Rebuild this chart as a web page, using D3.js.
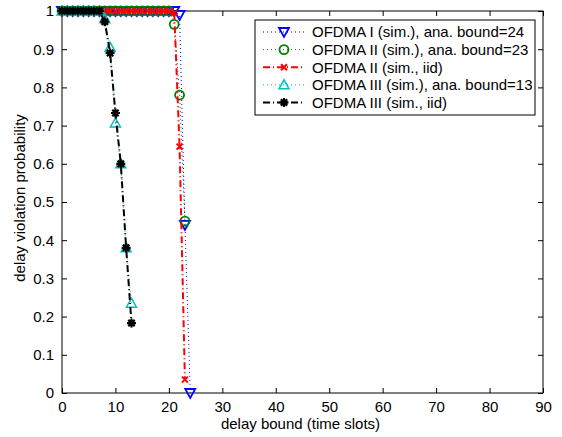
<!DOCTYPE html>
<html>
<head>
<meta charset="utf-8">
<script src="https://cdn.jsdelivr.net/npm/d3@7"></script>
<style>
  body { margin: 0; background: #fff; }
  text { font-family: "Liberation Sans", Arial, sans-serif; fill: #000; }
</style>
</head>
<body>
<div id="chart"></div>
<script>

// delay bound values (time slots)
var xI   = [0,1,2,3,4,5,6,7,8,9,10,11,12,13,14,15,16,17,18,19,20,21,22,23,24],
    yI   = [1,1,1,1,1,1,1,1,1,1,1,1,1,1,1,1,1,1,1,1,1,1,0.99,0.44,0],
    xII  = [0,1,2,3,4,5,6,7,8,9,10,11,12,13,14,15,16,17,18,19,20,21,22,23],
    yII  = [1,1,1,1,1,1,1,1,1,1,1,1,1,1,1,1,1,1,1,1,1,0.965,0.78,0.45],
    xIIi = [0,1,2,3,4,5,6,7,8,9,10,11,12,13,14,15,16,17,18,19,20,21,22,23],
    yIIi = [1,1,1,1,1,1,1,1,1,1,1,1,1,1,1,1,1,1,1,1,1,0.995,0.645,0.035],
    xIII  = [0,1,2,3,4,5,6,7,8,9,10,11,12,13],
    yIII  = [1,1,1,1,1,1,1,1,0.98,0.905,0.707,0.60,0.38,0.235],
    xIIIi = [0,1,2,3,4,5,6,7,8,9,10,11,12,13],
    yIIIi = [1,1,1,1,1,1,1,1,0.972,0.89,0.733,0.60,0.38,0.183];

var xTicks = [0,10,20,30,40,50,60,70,80,90],
    yTicks = [0,0.1,0.2,0.3,0.4,0.5,0.6,0.7,0.8,0.9,1];

var labels = [ 'OFDMA I (sim.), ana. bound=24'
             , 'OFDMA II (sim.), ana. bound=23'
             , 'OFDMA II (sim., iid)'
             , 'OFDMA III (sim.), ana. bound=13'
             , 'OFDMA III (sim., iid)' ];

var series = [
  { x: xI,    y: yI,    color: '#0000ff', dash: '1,3',     width: 1,   marker: 'tdown' },
  { x: xII,   y: yII,   color: '#008000', dash: '1,3',     width: 1,   marker: 'circle' },
  { x: xIIi,  y: yIIi,  color: '#ff0000', dash: '7,3,1,3', width: 2,   marker: 'x' },
  { x: xIII,  y: yIII,  color: '#00bfbf', dash: '1,3',     width: 1,   marker: 'tup' },
  { x: xIIIi, y: yIIIi, color: '#000000', dash: '7,3,1,3', width: 2,   marker: 'star' }
];
series.forEach((s, i) => s.label = labels[i]);

var W = 562, H = 437,
    margin = { top: 11, right: 19, bottom: 44, left: 62 },
    width = W - margin.left - margin.right,
    height = H - margin.top - margin.bottom,
    fs = 15;

var x = d3.scaleLinear().domain([0, 90]).range([0, width]),
    y = d3.scaleLinear().domain([0, 1]).range([height, 0]);

var svg = d3.select('#chart').append('svg')
    .attr('width', W)
    .attr('height', H)
  .append('g')
    .attr('transform', `translate(${margin.left},${margin.top})`);

// axes with inward ticks, box all round
var tk = 5;
svg.append('g')
    .attr('transform', `translate(0,${height})`)
    .call(d3.axisBottom(x).tickValues(xTicks).tickSizeInner(-tk).tickSizeOuter(0).tickPadding(8));
svg.append('g')
    .call(d3.axisTop(x).tickValues(xTicks).tickSizeInner(-tk).tickSizeOuter(0).tickFormat(''));
svg.append('g')
    .call(d3.axisLeft(y).tickValues(yTicks).tickSizeInner(-tk).tickSizeOuter(0).tickPadding(8)
      .tickFormat(d => d === 0 || d === 1 ? d3.format('d')(d) : d3.format('.1f')(d)));
svg.append('g')
    .attr('transform', `translate(${width},0)`)
    .call(d3.axisRight(y).tickValues(yTicks).tickSizeInner(-tk).tickSizeOuter(0).tickFormat(''));

svg.selectAll('.domain').remove();
svg.selectAll('.tick line').attr('stroke', '#000');
svg.selectAll('.tick text').attr('font-size', fs).attr('font-family', '"Liberation Sans", Arial, sans-serif');

svg.append('rect')
    .attr('width', width).attr('height', height)
    .attr('fill', 'none').attr('stroke', '#000').attr('stroke-width', 1);

svg.append('text')
    .attr('x', width / 2 - 2).attr('y', height + 36)
    .attr('text-anchor', 'middle').attr('font-size', fs)
    .text('delay bound (time slots)');

svg.append('text')
    .attr('transform', `translate(${-37},${height / 2 - 4}) rotate(-90)`)
    .attr('text-anchor', 'middle').attr('font-size', fs)
    .text('delay violation probability');

function drawMarker(g, type, color) {
  if (type === 'tdown') {
    g.append('path').attr('d', 'M-5,-4L5,-4L0,5Z')
      .attr('fill', 'none').attr('stroke', color).attr('stroke-width', 1.8);
  } else if (type === 'tup') {
    g.append('path').attr('d', 'M-5,4L5,4L0,-5Z')
      .attr('fill', 'none').attr('stroke', color).attr('stroke-width', 1.5);
  } else if (type === 'circle') {
    g.append('circle').attr('r', 4.5)
      .attr('fill', 'none').attr('stroke', color).attr('stroke-width', 1.8);
  } else if (type === 'x') {
    g.append('path').attr('d', 'M-3,-3L3,3M-3,3L3,-3')
      .attr('stroke', color).attr('stroke-width', 2);
  } else if (type === 'star') {
    g.append('path').attr('d', 'M0,-4.5L0,4.5M-4.5,0L4.5,0M-3.2,-3.2L3.2,3.2M-3.2,3.2L3.2,-3.2')
      .attr('stroke', color).attr('stroke-width', 2.2);
    g.append('circle').attr('r', 2.8).attr('fill', color);
  }
}

var line = d3.line()
    .x(d => x(d[0]))
    .y(d => y(d[1]));

var plot = svg.append('g');

series.forEach(s => {
  var pts = s.x.map((v, i) => [v, s.y[i]]);
  var g = plot.append('g');
  g.append('path')
      .attr('d', line(pts))
      .attr('fill', 'none')
      .attr('stroke', s.color)
      .attr('stroke-width', s.width)
      .attr('stroke-dasharray', s.dash);
  g.selectAll('.m').data(pts).enter()
    .append('g')
      .attr('class', 'm')
      .attr('transform', d => `translate(${x(d[0])},${y(d[1])})`)
      .each(function () { drawMarker(d3.select(this), s.marker, s.color); });
});

// legend
var lg = svg.append('g').attr('transform', `translate(${255 - margin.left},${20 - margin.top})`);
lg.append('rect')
    .attr('width', 280).attr('height', 95)
    .attr('fill', '#fff').attr('stroke', '#000').attr('stroke-width', 1);

series.forEach((s, i) => {
  var row = lg.append('g').attr('transform', `translate(0,${12 + i * 17.6})`);
  row.append('line')
      .attr('x1', 8).attr('x2', 50)
      .attr('stroke', s.color).attr('stroke-width', s.width)
      .attr('stroke-dasharray', s.dash);
  drawMarker(row.append('g').attr('transform', 'translate(29,0)'), s.marker, s.color);
  row.append('text')
      .attr('x', 57).attr('dy', '.36em')
      .attr('font-size', fs)
      .text(s.label);
});

</script>
</body>
</html>
